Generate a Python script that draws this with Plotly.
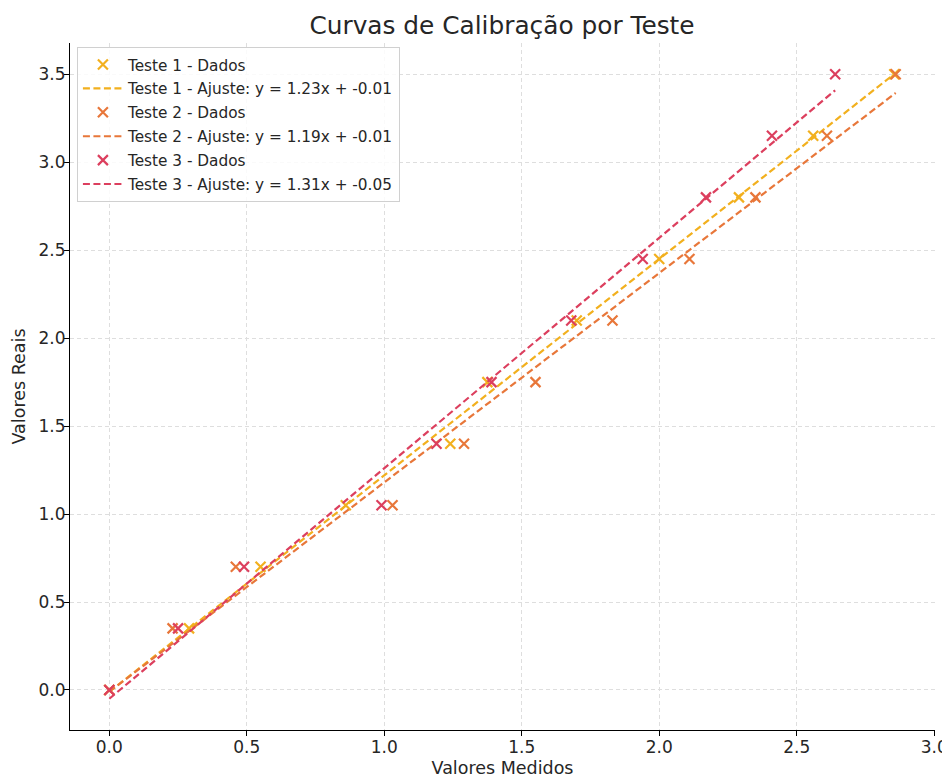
import plotly.graph_objects as go

# Data
valores_reais = [0.0, 0.35, 0.70, 1.05, 1.40, 1.75, 2.10, 2.45, 2.80, 3.15, 3.50]
medidos_t1 = [0.0, 0.29, 0.55, 0.86, 1.24, 1.375, 1.70, 2.00, 2.29, 2.56, 2.855]
medidos_t2 = [0.0, 0.23, 0.46, 1.03, 1.29, 1.55, 1.83, 2.11, 2.35, 2.61, 2.86]
medidos_t3 = [0.0, 0.25, 0.49, 0.99, 1.19, 1.39, 1.68, 1.94, 2.17, 2.41, 2.64]

nomes = ["Teste 1", "Teste 2", "Teste 3"]
inclinacoes = [1.23, 1.19, 1.31]
interceptos = [-0.01, -0.01, -0.05]
cores = ["#f2b01e", "#e8773a", "#dc3f5e"]

x_ticks = [0.0, 0.5, 1.0, 1.5, 2.0, 2.5, 3.0]
y_ticks = [0.0, 0.5, 1.0, 1.5, 2.0, 2.5, 3.0, 3.5]

FONT = "DejaVu Sans"

fig = go.Figure()
series = [medidos_t1, medidos_t2, medidos_t3]
for i, (nome, xs, m, b, cor) in enumerate(zip(nomes, series, inclinacoes, interceptos, cores)):
    fig.add_trace(go.Scatter(
        x=xs, y=valores_reais, mode="markers",
        name=f"{nome} - Dados", legendgroup=f"d{i}",
        marker=dict(symbol="x-thin", size=10, color=cor,
                    line=dict(width=2.2, color=cor)),
    ))
    x_fit = [0.0, max(xs)]
    y_fit = [m * x + b for x in x_fit]
    fig.add_trace(go.Scatter(
        x=x_fit, y=y_fit, mode="lines",
        name=f"{nome} - Ajuste: y = {m:.2f}x + {b:.2f}", legendgroup=f"f{i}",
        line=dict(color=cor, width=2.2, dash="7px,3.5px"),
    ))

# page body adds an 8px offset: figure is 942x770 so it fills the 950x778 window
fig.update_layout(
    width=942, height=770,
    margin=dict(l=62, r=15, t=35, b=48, autoexpand=False),
    paper_bgcolor="white", plot_bgcolor="white",
    font=dict(family=FONT, color="#262626", size=17),
    title=dict(text="Curvas de Calibração por Teste", x=0.5244, xanchor="center",
               y=0.978, yanchor="middle", automargin=False,
               font=dict(size=24.8, family=FONT, color="#262626")),
    legend=dict(x=0.008, y=0.994, xanchor="left", yanchor="top",
                bgcolor="rgba(255,255,255,0.85)", bordercolor="#d0d0d0", borderwidth=1,
                font=dict(size=15.3, family=FONT, color="#262626"),
                tracegroupgap=1.0, itemwidth=40),
    showlegend=True,
)
fig.update_xaxes(
    range=[-0.143, 3.003], tickvals=x_ticks, tickformat=".1f", automargin=False,
    showline=True, linecolor="black", linewidth=1.2, mirror=False,
    ticks="outside", ticklen=5, tickcolor="black", ticklabelstandoff=-4,
    showgrid=True, gridcolor="#dedede", griddash="4px,3px", gridwidth=1,
    zeroline=False,
    title=dict(text="Valores Medidos", font=dict(size=17.5), standoff=6),
)
fig.update_yaxes(
    range=[-0.2275, 3.6775], tickvals=y_ticks, tickformat=".1f", automargin=False,
    showline=True, linecolor="black", linewidth=1.2, mirror=False,
    ticks="outside", ticklen=5, tickcolor="black", ticklabelstandoff=-5,
    showgrid=True, gridcolor="#dedede", griddash="4px,3px", gridwidth=1,
    zeroline=False,
    title=dict(text="Valores Reais", font=dict(size=17.5), standoff=8),
)

fig.write_html("out.html")
